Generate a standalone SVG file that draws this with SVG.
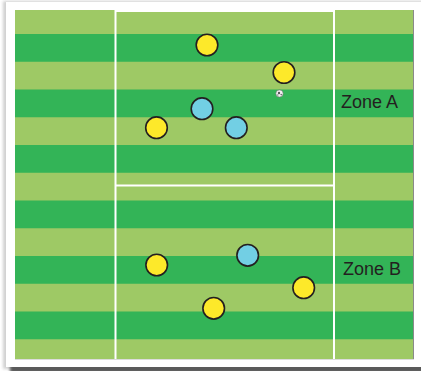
<svg xmlns="http://www.w3.org/2000/svg" width="421" height="371" viewBox="0 0 421 371">
  <defs>
    <filter id="sh" x="-10%" y="-10%" width="130%" height="130%">
      <feGaussianBlur stdDeviation="1.5"/>
    </filter>
    <style>
      .lt { fill: #9ec965; }
      .dk { fill: #33b457; }
      .ln { fill: none; stroke: #ffffff; stroke-width: 2; }
      .y { fill: #fde92a; stroke: #231f20; stroke-width: 1.6; }
      .b { fill: #72cfe4; stroke: #231f20; stroke-width: 1.6; }
      .lbl { font-family: "Liberation Sans", Arial, sans-serif; font-size: 18px; fill: #231f20; }
    </style>
  </defs>
  <rect width="421" height="371" fill="#ffffff"/>
  <!-- card shadow -->
  <rect x="3" y="1" width="430" height="368" fill="#d0d0d0" filter="url(#sh)"/>
  <rect x="10" y="6" width="430" height="367" fill="#5a5a5a" filter="url(#sh)"/>
  <rect x="6" y="2" width="420" height="365" fill="#ffffff"/>
  <!-- field -->
  <g id="field">
    <rect x="15" y="10" width="399" height="349.3" fill="#8a8a8a"/>
    <rect class="lt" x="15" y="10" width="398" height="349"/>
    <rect class="dk" x="15" y="34" width="398" height="27.75"/>
    <rect class="dk" x="15" y="89.5" width="398" height="27.75"/>
    <rect class="dk" x="15" y="145" width="398" height="27.75"/>
    <rect class="dk" x="15" y="200.5" width="398" height="27.75"/>
    <rect class="dk" x="15" y="256" width="398" height="27.75"/>
    <rect class="dk" x="15" y="311.5" width="398" height="27.75"/>
  </g>
  <g id="lines">
    <polyline class="ln" points="115.5,359 115.5,11 334,11 334,359"/>
    <line class="ln" x1="115.5" y1="185.5" x2="334" y2="185.5"/>
  </g>
  <g id="zone-a"><text class="lbl" x="341" y="108">Zone A</text></g>
  <g id="zone-b"><text class="lbl" x="343" y="275">Zone B</text></g>
  <g id="players">
    <g id="y1"><circle class="y" cx="207" cy="45" r="10.8"/></g>
    <g id="y2"><circle class="y" cx="284" cy="72.5" r="10.8"/></g>
    <g id="y3"><circle class="y" cx="156.5" cy="127.7" r="10.8"/></g>
    <g id="b1"><circle class="b" cx="202" cy="108.7" r="10.8"/></g>
    <g id="b2"><circle class="b" cx="236.3" cy="127.7" r="10.8"/></g>
    <g id="y4"><circle class="y" cx="156.7" cy="265" r="10.8"/></g>
    <g id="b3"><circle class="b" cx="247.7" cy="255.3" r="10.8"/></g>
    <g id="y5"><circle class="y" cx="303.7" cy="287.7" r="10.8"/></g>
    <g id="y6"><circle class="y" cx="213.7" cy="308.3" r="10.8"/></g>
  </g>
  <g id="ball">
    <circle cx="279.5" cy="93.5" r="3.6" fill="#f4f4f4" stroke="#777" stroke-width="0.6"/>
    <circle cx="279" cy="93" r="1.2" fill="#555"/>
    <circle cx="281.2" cy="94.6" r="0.8" fill="#666"/>
    <circle cx="277.8" cy="95" r="0.7" fill="#777"/>
  </g>
  <g id="connectors"/>
</svg>
